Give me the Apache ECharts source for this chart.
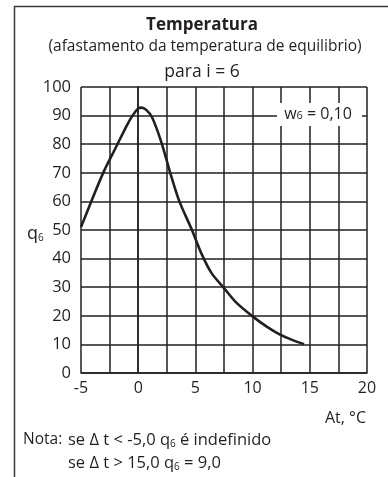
<!DOCTYPE html>
<html>
<head>
<meta charset="utf-8">
<script src="https://cdn.jsdelivr.net/npm/echarts@6/dist/echarts.min.js"></script>
<style>
  html, body { margin: 0; padding: 0; background: #fff; }
  #chart { width: 388px; height: 477px; }
</style>
</head>
<body>
<div id="chart"></div>
<script>
// Temperature deviation (°C) and resulting q6 values along the curve
const deltaT = [-5, -4, -3, -2, -1, -0.5, 0, 0.3, 0.7, 1.2, 2, 2.8, 3.6, 4.7, 5.5, 6.4, 7.5, 8.6, 10, 11.2, 12.4, 13.5, 14.5];
const q6 = [51, 61, 70.5, 78.5, 86.5, 90, 92.5, 92.8, 92, 89.5, 81, 70, 60, 50, 42, 35, 29.7, 24.5, 19.8, 16.3, 13.4, 11.5, 10.1];

const xLabels = [-5, 0, 5, 10, 15, 20];
const yLabels = [0, 10, 20, 30, 40, 50, 60, 70, 80, 90, 100];

const FONT = 'Open Sans';
const INK = '#231f20';

const chart = echarts.init(document.getElementById('chart'));

chart.setOption({
  animation: false,
  backgroundColor: '#fff',
  grid: { left: 81, top: 87, right: 21, bottom: 104, containLabel: false },
  xAxis: {
    type: 'value',
    min: -5, max: 20, interval: 2.5,
    axisLine: { show: true, lineStyle: { color: INK, width: 1.5 } },
    axisTick: { show: false },
    splitLine: { show: true, lineStyle: { color: INK, width: 1.5 } },
    axisLabel: {
      margin: 7,
      fontFamily: FONT, fontSize: 16, color: INK,
      formatter: v => (xLabels.indexOf(v) >= 0 ? String(v) : '')
    }
  },
  yAxis: {
    type: 'value',
    min: 0, max: 100, interval: 10,
    axisLine: { show: true, lineStyle: { color: INK, width: 1.5 } },
    axisTick: { show: false },
    splitLine: { show: true, lineStyle: { color: INK, width: 1.5 } },
    axisLabel: {
      margin: 10,
      fontFamily: FONT, fontSize: 16.5, color: INK,
      formatter: v => (yLabels.indexOf(v) >= 0 ? String(v) : '')
    }
  },
  series: [{
    type: 'line',
    data: deltaT.map((x, i) => [x, q6[i]]),
    smooth: 0.3,
    showSymbol: false,
    lineStyle: { color: INK, width: 2.6 },
    z: 5
  }],
  graphic: [
    // outer frame
    { type: 'rect', shape: { x: 14.5, y: 6.5, width: 400, height: 500 },
      style: { fill: 'none', stroke: '#3a3a3a', lineWidth: 1.5 }, z: 1 },
    { type: 'text', x: 202, y: 25,
      style: { text: 'Temperatura', font: `bold 17px "${FONT}"`, fill: INK,
               textAlign: 'center', textVerticalAlign: 'middle' }, z: 10 },
    { type: 'text', x: 205, y: 47,
      style: { text: '(afastamento da temperatura de equilibrio)', font: `15.5px "${FONT}"`, fill: INK,
               textAlign: 'center', textVerticalAlign: 'middle' }, z: 10 },
    { type: 'text', x: 202, y: 72,
      style: { text: 'para i = 6', font: `17.5px "${FONT}"`, fill: INK,
               textAlign: 'center', textVerticalAlign: 'middle' }, z: 10 },
    // legend box for w6
    { type: 'rect', shape: { x: 277, y: 103, width: 85, height: 23 },
      style: { fill: '#fff' }, z: 20 },
    { type: 'text', x: 318, y: 114,
      style: { text: '{a|w}{s|6}{a| = 0,10}', textAlign: 'center', textVerticalAlign: 'middle',
               rich: { a: { font: `16px "${FONT}"`, fill: INK },
                       s: { font: `11px "${FONT}"`, fill: INK, padding: [4, 0, 0, 0] } } }, z: 21 },
    // y-axis name
    { type: 'text', x: 27, y: 234,
      style: { text: '{a|q}{s|6}', textVerticalAlign: 'middle',
               rich: { a: { font: `18px "${FONT}"`, fill: INK },
                       s: { font: `10px "${FONT}"`, fill: INK, padding: [9, 0, 0, 0] } } }, z: 10 },
    // x-axis name
    { type: 'text', x: 366, y: 418,
      style: { text: 'At, °C', font: `16px "${FONT}"`, fill: INK,
               textAlign: 'right', textVerticalAlign: 'middle' }, z: 10 },
    // notes
    { type: 'text', x: 23, y: 440,
      style: { text: 'Nota:', font: `15.5px "${FONT}"`, fill: INK, textVerticalAlign: 'middle' }, z: 10 },
    { type: 'text', x: 68, y: 440,
      style: { text: '{a|se Δ t < -5,0 q}{s|6}{a| é indefinido}', textVerticalAlign: 'middle',
               rich: { a: { font: `16.5px "${FONT}"`, fill: INK },
                       s: { font: `10px "${FONT}"`, fill: INK, padding: [8, 0, 0, 0] } } }, z: 10 },
    { type: 'text', x: 68, y: 463,
      style: { text: '{a|se Δ t > 15,0 q}{s|6}{a| = 9,0}', textVerticalAlign: 'middle',
               rich: { a: { font: `16.5px "${FONT}"`, fill: INK },
                       s: { font: `10px "${FONT}"`, fill: INK, padding: [8, 0, 0, 0] } } }, z: 10 }
  ]
});
</script>
</body>
</html>
